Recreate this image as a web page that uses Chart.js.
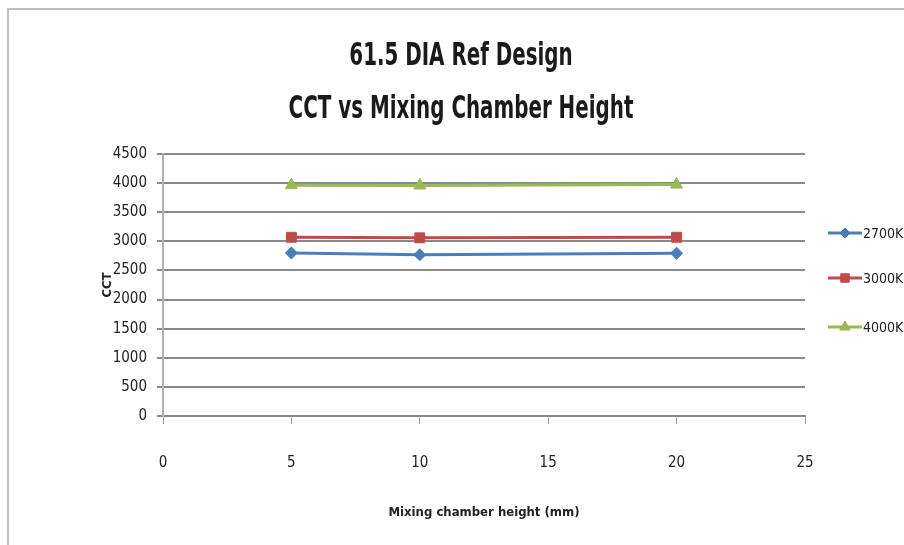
<!DOCTYPE html>
<html>
<head>
<meta charset="utf-8">
<script src="https://cdn.jsdelivr.net/npm/chart.js@4/dist/chart.umd.min.js"></script>
<style>
  html, body { margin: 0; padding: 0; background: #fff; }
  #wrap { position: relative; width: 904px; height: 545px; overflow: hidden; }
  #frame { position: absolute; left: 7px; top: 8px; width: 1000px; height: 1000px;
           border-left: 2px solid #bdbdbd; border-top: 2px solid #bdbdbd; }
  canvas { position: absolute; left: 0; top: 0; }
</style>
</head>
<body>
<div id="wrap">
  <div id="frame"></div>
  <canvas id="chart" width="904" height="545"></canvas>
</div>
<script>
// chart values
const heights = [5, 10, 20];
const seriesNames = ['2700K', '3000K', '4000K'];
const cct2700 = [2800, 2770, 2795];
const cct3000 = [3070, 3060, 3070];
const cct4000 = [3965, 3960, 3975];
const titleLines = ['61.5 DIA Ref Design', 'CCT vs Mixing Chamber Height'];

const FONT = "'DejaVu Sans Condensed', 'Liberation Sans Narrow', sans-serif";
const colors = ['#4a7ebb', '#be4b48', '#98b954'];
const markers = ['rectRot', 'rect', 'triangle'];
const markerSizes = [6, 7, 7];
const seriesValues = [cct2700, cct3000, cct4000];

function points(values) {
    return heights.map((h, i) => ({x: h, y: values[i]}));
}

// Calibri-like narrow bold title, drawn squeezed horizontally
const narrowTitle = {
    id: 'narrowTitle',
    afterDraw(chart) {
        const ctx = chart.ctx;
        const rows = [57, 110];
        ctx.save();
        ctx.fillStyle = '#1a1a1a';
        ctx.font = 'bold 32px ' + FONT;
        ctx.textAlign = 'center';
        ctx.textBaseline = 'middle';
        titleLines.forEach((line, i) => {
            ctx.save();
            ctx.translate(461, rows[i]);
            ctx.scale(0.69, 1);
            ctx.fillText(line, 0, 0);
            ctx.restore();
        });
        ctx.restore();
    }
};

// legend with line + marker, drawn at the right like Excel
const sideLegend = {
    id: 'sideLegend',
    afterDraw(chart) {
        const ctx = chart.ctx;
        const rows = [233, 278, 327];
        chart.data.datasets.forEach((ds, i) => {
            const y = rows[i];
            ctx.save();
            ctx.strokeStyle = ds.borderColor;
            ctx.fillStyle = ds.backgroundColor;
            ctx.lineWidth = 3;
            ctx.beginPath();
            ctx.moveTo(828, y);
            ctx.lineTo(862, y);
            ctx.stroke();
            ctx.lineWidth = 1;
            Chart.helpers.drawPoint(ctx, {
                pointStyle: ds.pointStyle,
                rotation: 0,
                radius: ds.pointRadius - 1,
                borderWidth: 1
            }, 845, y);
            ctx.fillStyle = '#222';
            ctx.font = '14px ' + FONT;
            ctx.textBaseline = 'middle';
            ctx.fillText(ds.label, 863, y + 1);
            ctx.restore();
        });
    }
};

const datasets = seriesNames.map((name, i) => ({
    label: name,
    data: points(seriesValues[i]),
    borderColor: colors[i],
    backgroundColor: colors[i],
    pointStyle: markers[i],
    pointRadius: markerSizes[i],
    pointBorderWidth: 1,
    borderWidth: 3,
    tension: 0
}));

new Chart(document.getElementById('chart'), {
    type: 'line',
    plugins: [narrowTitle, sideLegend],
    data: { datasets: datasets },
    options: {
        responsive: false,
        animation: false,
        layout: { padding: { left: 90, right: 99, top: 154, bottom: 0 } },
        plugins: {
            legend: { display: false },
            tooltip: { enabled: false }
        },
        scales: {
            x: {
                type: 'linear',
                min: 0,
                max: 25,
                afterFit(scale) { scale.height = 129; },
                ticks: {
                    stepSize: 5,
                    padding: 30,
                    color: '#222',
                    font: { family: FONT, size: 15 }
                },
                grid: {
                    drawOnChartArea: false,
                    drawTicks: true,
                    tickLength: 8,
                    color: '#9a9a9a'
                },
                border: { display: true, color: '#8a8a8a', width: 2 },
                title: {
                    display: true,
                    text: 'Mixing chamber height (mm)',
                    color: '#222',
                    font: { family: FONT, size: 13, weight: 'bold' },
                    padding: { top: 4, bottom: 25 }
                }
            },
            y: {
                min: 0,
                max: 4500,
                afterFit(scale) { scale.width = 73; },
                ticks: {
                    stepSize: 500,
                    padding: 10,
                    color: '#222',
                    font: { family: FONT, size: 15 },
                    callback: (v) => String(v)
                },
                grid: {
                    color: '#8a8a8a',
                    lineWidth: 2,
                    drawTicks: true,
                    tickLength: 6
                },
                border: { display: true, color: '#b0b0b0', width: 2 },
                title: {
                    display: true,
                    text: 'CCT',
                    color: '#222',
                    font: { family: FONT, size: 13, weight: 'bold' },
                    padding: { top: 10, bottom: 0 }
                }
            }
        }
    }
});
</script>
</body>
</html>
